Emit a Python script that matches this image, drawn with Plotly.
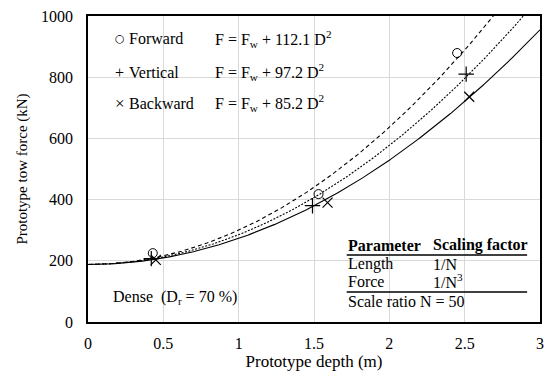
import numpy as np
import plotly.graph_objects as go

# Data
fw = 188.0
coef_forward = 112.1
coef_vertical = 97.2
coef_backward = 85.2

fwd_x = [0.43, 1.53, 2.45]
fwd_y = [225, 418, 879]
ver_x = [0.42, 1.49, 2.51]
ver_y = [207, 380, 810]
bwd_x = [0.45, 1.59, 2.53]
bwd_y = [203, 390, 736]

x_ticks = [0, 0.5, 1, 1.5, 2, 2.5, 3]
x_tick_labels = ["0", "0.5", "1", "1.5", "2", "2.5", "3"]
y_ticks = [0, 200, 400, 600, 800, 1000]

FONT = "Liberation Serif"

d = np.linspace(0, 3, 301)
fig = go.Figure()

def curve(k, dash):
    fig.add_trace(go.Scatter(x=d, y=fw + k * d ** 2, mode="lines",
                             line=dict(color="black", width=1.1, dash=dash),
                             showlegend=False, hoverinfo="skip"))

curve(coef_forward, "4px,3px")
curve(coef_vertical, "2px,1.5px")
curve(coef_backward, "solid")

fig.add_trace(go.Scatter(x=fwd_x, y=fwd_y, mode="markers",
                         marker=dict(symbol="circle-open", size=9, color="black", line=dict(width=1)),
                         showlegend=False))
fig.add_trace(go.Scatter(x=ver_x, y=ver_y, mode="markers",
                         marker=dict(symbol="cross-thin-open", size=11, color="black", line=dict(width=1.2)),
                         showlegend=False))
fig.add_trace(go.Scatter(x=bwd_x, y=bwd_y, mode="markers",
                         marker=dict(symbol="x-thin-open", size=10, color="black", line=dict(width=1.2)),
                         showlegend=False))

L, R, T, B = 88, 544, 16, 322
W, H = 549, 378

def px(xpix):
    return (xpix - L) / (R - L)

def py(ypix):
    return (B - ypix) / (B - T)

ann = []
def text(x, y, s, size=16, anchor="left", family=FONT):
    ann.append(dict(x=px(x), y=py(y), xref="paper", yref="paper", text=s, showarrow=False,
                    xanchor=anchor, yanchor="middle", font=dict(family=family, size=size, color="black")))

rows = [("○", "Forward", "112.1", 39, 11), ("+", "Vertical", "97.2", 72, 16), ("×", "Backward", "85.2", 103, 17)]
for sym, name, k, yy, ss in rows:
    text(120, yy, sym, ss, anchor="center", family="DejaVu Sans" if sym == "○" else FONT)
    text(127, yy, name, 16)
    text(214, yy, "F = F<sub>w</sub> + " + k + " D<sup>2</sup>", 16)

text(111, 297, "Dense  (D<sub>r</sub> = 70 %)", 16)

text(348, 245, "<b>Parameter</b>", 16)
text(434, 245, "<b>Scaling factor</b>", 16)
text(348, 264, "Length", 16)
text(434, 264, "1/N", 16)
text(348, 281, "Force", 16)
text(434, 281, "1/N<sup>3</sup>", 16)
text(348, 301, "Scale ratio N = 50", 16)

shapes = [
    dict(type="line", xref="paper", yref="paper", x0=px(349), x1=px(531), y0=py(255), y1=py(255),
         line=dict(color="black", width=1.5)),
    dict(type="line", xref="paper", yref="paper", x0=px(349), x1=px(531), y0=py(292), y1=py(292),
         line=dict(color="black", width=1.5)),
]

fig.update_layout(
    width=W, height=H,
    margin=dict(l=L, r=W - R, t=T, b=H - B),
    paper_bgcolor="white", plot_bgcolor="white",
    font=dict(family=FONT, size=16, color="black"),
    annotations=ann, shapes=shapes,
    xaxis=dict(range=[0, 3], tickvals=x_ticks, ticktext=x_tick_labels, showgrid=True,
               gridcolor="#d9d9d9", gridwidth=1, zeroline=False, showline=True, linecolor="black",
               linewidth=1.5, mirror=True, ticks="", ticklen=0, ticklabelstandoff=6,
               title=dict(text="Prototype depth (m)", font=dict(family=FONT, size=17), standoff=2),
               tickfont=dict(family=FONT, size=16)),
    yaxis=dict(range=[0, 1000], tickvals=y_ticks, showgrid=True,
               gridcolor="#d9d9d9", gridwidth=1, zeroline=False, showline=True, linecolor="black",
               linewidth=1.5, mirror=True, ticks="", ticklen=0, ticklabelstandoff=10,
               title=dict(text="Prototype tow force (kN)", font=dict(family=FONT, size=15), standoff=10),
               tickfont=dict(family=FONT, size=16)),
)

fig.write_html("out.html")
